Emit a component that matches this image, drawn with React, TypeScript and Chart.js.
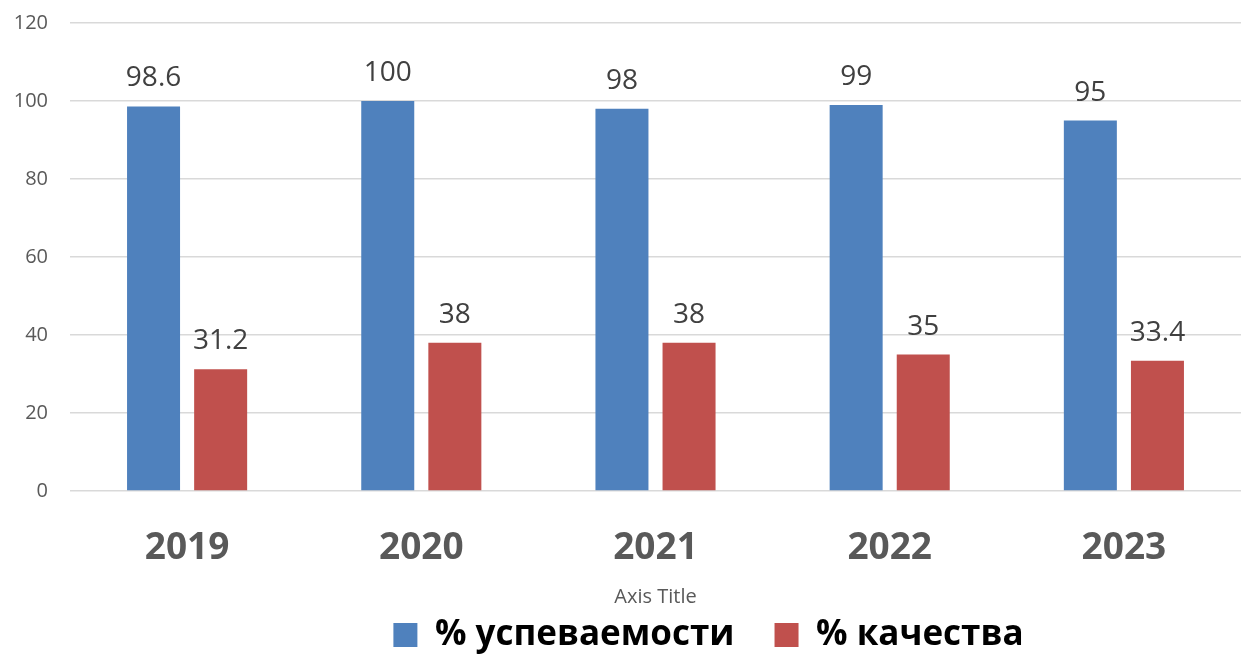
import React, { useEffect, useRef } from "react";
import { Chart, registerables } from "chart.js";

Chart.register(...registerables);

const categories = ["2019", "2020", "2021", "2022", "2023"];
const successValues = [98.6, 100, 98, 99, 95];
const qualityValues = [31.2, 38, 38, 35, 33.4];
const seriesNames = ["% успеваемости", "% качества"];
const yTicks = [0, 20, 40, 60, 80, 100, 120];

const FONT = "'Open Sans', 'Noto Sans', sans-serif";

const dataLabels = {
  id: "dataLabels",
  afterDatasetsDraw(chart: any) {
    const ctx = chart.ctx;
    ctx.save();
    ctx.font = `28px ${FONT}`;
    ctx.fillStyle = "#404040";
    ctx.textAlign = "center";
    ctx.textBaseline = "alphabetic";
    chart.data.datasets.forEach((ds: any, i: number) => {
      const meta = chart.getDatasetMeta(i);
      meta.data.forEach((bar: any, j: number) => {
        ctx.fillText(String(ds.data[j]), bar.x, bar.y - 20);
      });
    });
    ctx.restore();
  },
};

const legendShift = {
  id: "legendShift",
  afterLayout(chart: any) {
    if (chart.legend) {
      chart.legend.left += 88;
      chart.legend.right += 88;
    }
  },
};

export default function App() {
  const ref = useRef<HTMLCanvasElement>(null);
  useEffect(() => {
    if (!ref.current) return;
    const chart = new Chart(ref.current, {
      type: "bar",
      data: {
        labels: categories,
        datasets: [
          { label: seriesNames[0], data: successValues, backgroundColor: "#4F81BD" },
          { label: seriesNames[1], data: qualityValues, backgroundColor: "#C0504D" },
        ],
      },
      options: {
        animation: false,
        responsive: false,
        layout: { autoPadding: false, padding: { top: 23, right: 0, left: 0, bottom: -8.5 } },
        datasets: { bar: { categoryPercentage: 0.573, barPercentage: 0.79 } } as any,
        scales: {
          x: {
            grid: { display: false, drawTicks: false },
            border: { display: false },
            afterFit: (scale: any) => {
              scale.height = 86.5;
            },
            ticks: { font: { family: FONT, size: 37, weight: "bold" }, color: "#595959", padding: 35 },
            title: {
              display: true,
              text: "Axis Title",
              font: { family: FONT, size: 20 },
              color: "#595959",
              padding: { top: 0, bottom: -31.5 },
            },
          },
          y: {
            min: 0,
            max: 120,
            afterBuildTicks: (scale: any) => {
              scale.ticks = yTicks.map((v) => ({ value: v }));
            },
            afterFit: (scale: any) => {
              scale.width = 70;
              scale.paddingTop = 0;
              scale.paddingBottom = 0;
            },
            grid: { color: "#D9D9D9", lineWidth: 1.5, drawTicks: false },
            border: { display: false },
            ticks: { font: { family: FONT, size: 20 }, color: "#595959", padding: 22 },
          },
        },
        plugins: {
          legend: {
            position: "bottom",
            labels: {
              font: { family: FONT, size: 35, weight: "bold" },
              color: "#000000",
              boxWidth: 24,
              boxHeight: 24,
              padding: 40,
            },
          },
          tooltip: { enabled: false },
        },
      },
      plugins: [dataLabels, legendShift],
    });
    return () => chart.destroy();
  }, []);
  return (
    <div style={{ position: "fixed", left: 0, top: 0, width: 1241, height: 654, background: "#fff" }}>
      <canvas ref={ref} width={1241} height={654} />
    </div>
  );
}
